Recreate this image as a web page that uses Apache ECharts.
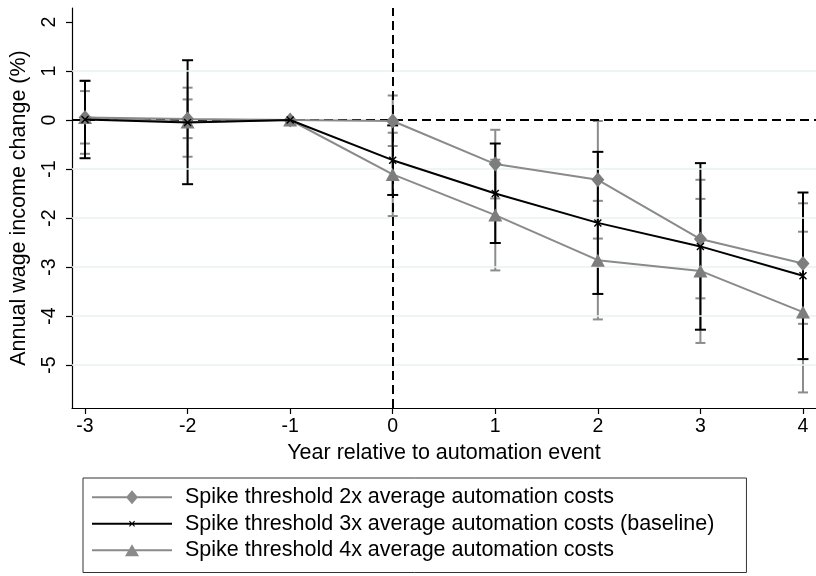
<!DOCTYPE html>
<html>
<head>
<meta charset="utf-8">
<script src="https://cdn.jsdelivr.net/npm/echarts@6/dist/echarts.min.js"></script>
<style>
  html, body { margin: 0; padding: 0; background: #ffffff; }
  #chart { width: 816px; height: 576px; }
</style>
</head>
<body>
<div id="chart"></div>
<script>
// Event-study estimates: wage income change by year relative to automation event
const years = [-3, -2, -1, 0, 1, 2, 3, 4];
const xTicks = [-3, -2, -1, 0, 1, 2, 3, 4];
const yTicks = [-5, -4, -3, -2, -1, 0, 1, 2];
const gridValues = [1, -1, -2, -3, -4, -5];

const seriesNames = [
  'Spike threshold 2x average automation costs',
  'Spike threshold 3x average automation costs (baseline)',
  'Spike threshold 4x average automation costs'
];

// Spike threshold 2x
const est2x = [0.05, 0.02, 0, -0.02, -0.90, -1.22, -2.43, -2.93];
const lo2x  = [-0.48, -0.37, null, -0.53, -1.60, -2.42, -3.64, -4.16];
const hi2x  = [0.59, 0.42, null, 0.50, -0.20, -0.02, -1.22, -1.70];

// Spike threshold 3x (baseline)
const est3x = [0.01, -0.05, 0, -0.82, -1.50, -2.10, -2.58, -3.18];
const lo3x  = [-0.78, -1.31, null, -1.53, -2.51, -3.55, -4.28, -4.88];
const hi3x  = [0.80, 1.22, null, -0.11, -0.48, -0.65, -0.88, -1.48];

// Spike threshold 4x
const est4x = [0.05, -0.04, 0, -1.11, -1.94, -2.86, -3.08, -3.92];
const lo4x  = [-0.69, -0.75, null, -1.96, -3.07, -4.07, -4.55, -5.56];
const hi4x  = [0.80, 0.66, null, -0.26, -0.81, -1.65, -1.61, -2.28];

const FONT = "'Liberation Sans', Arial, Helvetica, sans-serif";
const GRAY_LINE = '#8a8a8a';
const GRAY_MARK = '#7d7d7d';
const GRAY_BAR = '#8c8c8c';
const BLACK = '#000000';

function points(est) {
  return years.map((x, i) => [x, est[i]]);
}
function intervals(lo, hi) {
  return years.map((x, i) => [x, lo[i], hi[i]]).filter(d => d[1] != null && d[2] != null);
}

function errorBarRenderer(color, capHalf, width) {
  return function (params, api) {
    const x = api.value(0);
    const top = api.coord([x, api.value(2)]);
    const bot = api.coord([x, api.value(1)]);
    const style = { stroke: color, lineWidth: width, fill: null };
    return {
      type: 'group',
      children: [
        { type: 'line', shape: { x1: top[0], y1: top[1], x2: bot[0], y2: bot[1] }, style: style },
        { type: 'line', shape: { x1: top[0] - capHalf, y1: top[1], x2: top[0] + capHalf, y2: top[1] }, style: style },
        { type: 'line', shape: { x1: bot[0] - capHalf, y1: bot[1], x2: bot[0] + capHalf, y2: bot[1] }, style: style }
      ]
    };
  };
}

// Marker shapes
const crossSymbol = 'path://M1 0L4 3L7 0L8 1L5 4L8 7L7 8L4 5L1 8L0 7L3 4L0 1Z';

// Legend keys: line segment with the series marker in its middle (88x14 box)
const corners = 'M0 0L0.01 0L0.01 0.01Z M88 14L87.99 14L87.99 13.99Z ';
const keyLine = 'M0 6L80 6L80 8L0 8Z ';
const iconDiamond = 'path://' + corners + keyLine + 'M34 7L40 0L46 7L40 14Z';
const iconCross = 'path://' + corners + keyLine +
  'M37.75 4L40 6.25L42.25 4L43 4.75L40.75 7L43 9.25L42.25 10L40 7.75L37.75 10L37 9.25L39.25 7L37 4.75Z';
const iconTriangle = 'path://' + corners + keyLine + 'M33 13L40 1L47 13Z';

const chart = echarts.init(document.getElementById('chart'), null, { renderer: 'canvas' });

const option = {
  animation: false,
  backgroundColor: '#ffffff',
  textStyle: { fontFamily: FONT, color: '#000' },
  grid: { left: 72, right: 0, top: 8, bottom: 168, containLabel: false },
  xAxis: {
    type: 'value',
    min: -3.127,
    max: 4.127,
    name: 'Year relative to automation event',
    nameLocation: 'middle',
    nameGap: 31,
    nameTextStyle: { fontFamily: FONT, fontSize: 21.5, color: '#000' },
    axisLine: { show: true, onZero: false, lineStyle: { color: '#000', width: 1.2 } },
    axisTick: { show: true, customValues: xTicks, length: 6, lineStyle: { color: '#000', width: 1.2 } },
    axisLabel: { customValues: xTicks, fontFamily: FONT, fontSize: 19.5, color: '#000', margin: 9 },
    splitLine: { show: false }
  },
  yAxis: {
    type: 'value',
    min: -5.878,
    max: 2.286,
    name: 'Annual wage income change (%)',
    nameLocation: 'middle',
    nameGap: 42,
    nameTextStyle: { fontFamily: FONT, fontSize: 21.5, color: '#000' },
    axisLine: { show: true, onZero: false, lineStyle: { color: '#000', width: 1.2 } },
    axisTick: { show: true, customValues: yTicks, length: 6, lineStyle: { color: '#000', width: 1.2 } },
    axisLabel: { customValues: yTicks, rotate: 90, fontFamily: FONT, fontSize: 19.5, color: '#000', margin: 12 },
    splitLine: { show: false }
  },
  legend: {
    orient: 'vertical',
    left: 83,
    top: 478,
    padding: [7, 32, 10, 9],
    itemWidth: 88,
    itemHeight: 14,
    itemGap: 2,
    borderColor: '#333333',
    borderWidth: 1,
    selectedMode: false,
    textStyle: { fontFamily: FONT, fontSize: 21.5, color: '#000', lineHeight: 24.5 },
    data: [
      { name: seriesNames[0], icon: iconDiamond, itemStyle: { color: GRAY_LINE, borderWidth: 0 } },
      { name: seriesNames[1], icon: iconCross, itemStyle: { color: BLACK, borderWidth: 0 } },
      { name: seriesNames[2], icon: iconTriangle, itemStyle: { color: GRAY_LINE, borderWidth: 0 } }
    ]
  },
  series: [
    {
      name: 'gridlines',
      type: 'line',
      data: [],
      silent: true,
      z: 1,
      markLine: {
        silent: true,
        symbol: ['none', 'none'],
        label: { show: false },
        animation: false,
        lineStyle: { color: '#eaf2f3', width: 1.5, type: 'solid' },
        data: gridValues.map(v => ({ yAxis: v }))
      }
    },
    {
      name: seriesNames[0] + ' CI',
      type: 'custom',
      z: 2,
      silent: true,
      renderItem: errorBarRenderer(GRAY_BAR, 5, 2),
      encode: { x: 0, y: [1, 2] },
      data: intervals(lo2x, hi2x)
    },
    {
      name: seriesNames[2] + ' CI',
      type: 'custom',
      z: 2,
      silent: true,
      renderItem: errorBarRenderer(GRAY_BAR, 5, 2),
      encode: { x: 0, y: [1, 2] },
      data: intervals(lo4x, hi4x)
    },
    {
      name: seriesNames[1] + ' CI',
      type: 'custom',
      z: 3,
      silent: true,
      renderItem: errorBarRenderer(BLACK, 5.5, 2),
      encode: { x: 0, y: [1, 2] },
      data: intervals(lo3x, hi3x)
    },
    {
      name: 'reference',
      type: 'line',
      data: [],
      silent: true,
      z: 4,
      markLine: {
        silent: true,
        symbol: ['none', 'none'],
        label: { show: false },
        animation: false,
        lineStyle: { color: '#000', width: 2, type: [9, 5] },
        data: [{ xAxis: 0 }, { yAxis: 0 }]
      }
    },
    {
      name: seriesNames[0],
      type: 'line',
      z: 5,
      data: points(est2x),
      symbol: 'diamond',
      symbolSize: [13, 15],
      lineStyle: { color: GRAY_LINE, width: 2 },
      itemStyle: { color: GRAY_MARK }
    },
    {
      name: seriesNames[2],
      type: 'line',
      z: 5,
      data: points(est4x),
      symbol: 'triangle',
      symbolSize: [14, 13],
      lineStyle: { color: GRAY_LINE, width: 2 },
      itemStyle: { color: GRAY_MARK }
    },
    {
      name: seriesNames[1],
      type: 'line',
      z: 6,
      data: points(est3x),
      symbol: crossSymbol,
      symbolSize: 8,
      lineStyle: { color: BLACK, width: 2 },
      itemStyle: { color: BLACK }
    }
  ]
};

chart.setOption(option);
</script>
</body>
</html>
